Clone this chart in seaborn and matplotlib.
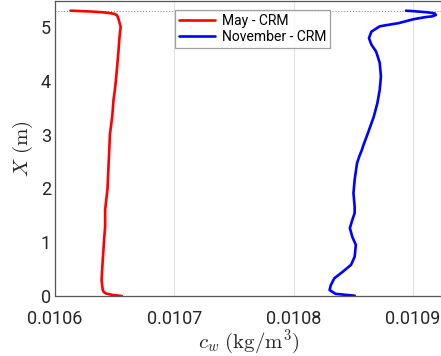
import pandas as pd
import matplotlib
matplotlib.use("Agg")
import matplotlib.pyplot as plt
import seaborn as sns

# Profiles of water vapour concentration along the height X (bottom to top)
may_x = [0.010656, 0.010648, 0.010643, 0.010641, 0.010640, 0.010639, 0.010640,
         0.010641, 0.010642, 0.010642, 0.010643, 0.010644, 0.010645, 0.010646,
         0.010648, 0.010649, 0.010650, 0.010651, 0.010653, 0.010654, 0.010655,
         0.010654, 0.010653, 0.010652, 0.010650, 0.010646, 0.010640, 0.010630,
         0.010613]
may_y = [0.000, 0.020, 0.045, 0.070, 0.110, 0.300, 0.670,
         1.000, 1.300, 1.600, 1.800, 2.000, 2.500, 3.000,
         3.350, 3.640, 3.800, 4.000, 4.500, 4.800, 5.000,
         5.080, 5.160, 5.210, 5.240, 5.255, 5.270, 5.285,
         5.300]

nov_x = [0.010851, 0.010835, 0.010830, 0.010831, 0.010834, 0.010841, 0.010848,
         0.010851, 0.010852, 0.010849, 0.010847, 0.010849, 0.010851, 0.010851,
         0.010850, 0.010851, 0.010853, 0.010855, 0.010857, 0.010858, 0.010862,
         0.010867, 0.010870, 0.010872, 0.010873, 0.010872, 0.010869, 0.010865,
         0.010863, 0.010865, 0.010872, 0.010888, 0.010900, 0.010910, 0.010916,
         0.010919, 0.010918, 0.010912, 0.010901, 0.010894]
nov_y = [0.005, 0.040, 0.110, 0.200, 0.330, 0.450, 0.580,
         0.730, 0.950, 1.100, 1.260, 1.410, 1.540, 1.660,
         1.910, 2.160, 2.470, 2.600, 2.710, 2.780, 3.020,
         3.330, 3.580, 3.830, 4.080, 4.330, 4.540, 4.670,
         4.790, 4.910, 5.010, 5.070, 5.140, 5.180, 5.195,
         5.220, 5.250, 5.270, 5.290, 5.300]

labels = ["May - CRM", "November - CRM"]
colors = ["#ff0000", "#0000ff"]
x_ticks = [0.0106, 0.0107, 0.0108, 0.0109]
y_ticks = [0, 1, 2, 3, 4, 5]
surface = 5.30

df = pd.concat([
    pd.DataFrame({"c": may_x, "X": may_y, "case": labels[0]}),
    pd.DataFrame({"c": nov_x, "X": nov_y, "case": labels[1]}),
], ignore_index=True)

sns.set_theme(style="white")
plt.rcParams["font.family"] = ["Roboto", "DejaVu Sans"]
plt.rcParams["mathtext.fontset"] = "cm"

fig = plt.figure(figsize=(4.41, 3.56), dpi=100)
ax = fig.add_axes([55 / 441, 60 / 356, 388 / 441, 295 / 356])

ax.axhline(surface, color="#777777", linestyle=(0, (1, 2)), linewidth=0.7, zorder=0)

sns.lineplot(data=df, x="c", y="X", hue="case", hue_order=labels, estimator=None,
             sort=False, palette=colors, linewidth=1.9, ax=ax)

ax.set_xlim(0.0106, 0.010925)
ax.set_ylim(0, 5.48)
ax.set_xticks(x_ticks)
ax.set_xticklabels([f"{t:.4f}" for t in x_ticks])
ax.set_yticks(y_ticks)
ax.grid(axis="x", color="#e3e3e3", linewidth=0.8)
ax.grid(axis="y", visible=False)

for side in ["left", "bottom", "top", "right"]:
    ax.spines[side].set_color("#555555")
    ax.spines[side].set_linewidth(0.9)

ax.tick_params(axis="both", direction="in", length=3, width=0.8, colors="#555555",
               labelcolor="#262626", labelsize=13)
ax.tick_params(axis="x", pad=10)
ax.tick_params(axis="y", pad=3)

ax.set_xlabel(r"$c_w\ \mathrm{(kg/m^3)}$", fontsize=15, color="#262626", labelpad=0)
ax.set_ylabel(r"$X\ \mathrm{(m)}$", fontsize=15, color="#262626", labelpad=4)

leg = ax.legend(title=None, loc="upper center", bbox_to_anchor=(0.509, 0.9695),
                borderaxespad=0, fontsize=10, frameon=True, fancybox=False,
                handlelength=2.6, handletextpad=0.5, borderpad=0.3, labelspacing=0.15)
leg.get_frame().set_edgecolor("#888888")
leg.get_frame().set_linewidth(0.9)
for t in leg.get_texts():
    t.set_color("#000000")

fig.savefig("out.png", dpi=100)
